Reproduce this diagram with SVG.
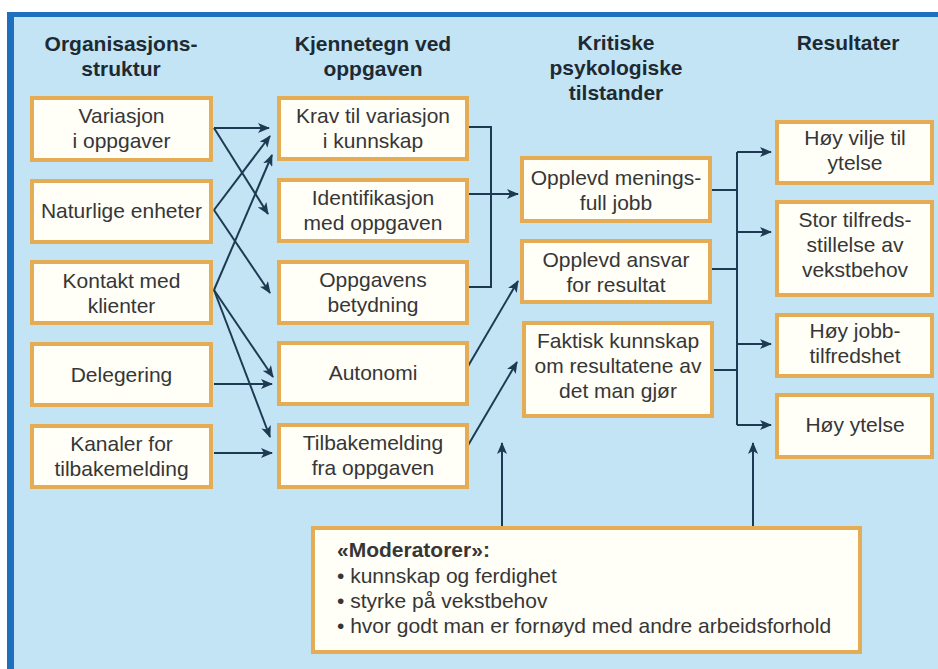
<svg xmlns="http://www.w3.org/2000/svg" width="938" height="669" viewBox="0 0 938 669">
<style>
.bx{fill:#fffef7;stroke:#e4ad55;stroke-width:4}
.t{font-family:"Liberation Sans",Arial,sans-serif;font-size:21px;fill:#363636;text-anchor:middle}
.h{font-family:"Liberation Sans",Arial,sans-serif;font-size:21px;font-weight:bold;fill:#1d2a33;text-anchor:middle}
.m{font-family:"Liberation Sans",Arial,sans-serif;font-size:21px;fill:#363636}
.c{fill:none;stroke:#1e3a52;stroke-width:2}
.a{marker-end:url(#ah)}
</style>
<defs>
<marker id="ah" viewBox="0 0 12 10" refX="11" refY="5" markerWidth="12" markerHeight="10" orient="auto" markerUnits="userSpaceOnUse">
<path d="M0,0 L12,5 L0,10 L3,5 z" fill="#1e3a52"/>
</marker>
</defs>
<rect x="0" y="0" width="938" height="669" fill="#ffffff"/>
<rect x="7" y="12" width="931" height="657" fill="#c3e4f5"/>
<rect x="7" y="12" width="931" height="5" fill="#1f6fbf"/>
<rect x="7" y="12" width="7" height="657" fill="#1f6fbf"/>

<g id="headers">
<text class="h" x="121" y="51">Organisasjons-</text>
<text class="h" x="121" y="76">struktur</text>
<text class="h" x="373" y="51">Kjennetegn ved</text>
<text class="h" x="373" y="76">oppgaven</text>
<text class="h" x="616" y="50">Kritiske</text>
<text class="h" x="616" y="75">psykologiske</text>
<text class="h" x="616" y="100">tilstander</text>
<text class="h" x="848" y="50">Resultater</text>
</g>

<g id="connectors">
<path class="c a" d="M214,128 H269"/>
<path class="c a" d="M214,128 L268,214"/>
<path class="c a" d="M214,210 L270,136"/>
<path class="c a" d="M214,210 L270,293"/>
<path class="c a" d="M214,290 L272,155"/>
<path class="c a" d="M214,290 L273,377"/>
<path class="c a" d="M214,290 L270,437"/>
<path class="c a" d="M214,384 H272"/>
<path class="c a" d="M214,453 H272"/>
<path class="c" d="M467,127 H491 V287 H467"/>
<path class="c a" d="M467,194 H518"/>
<path class="c a" d="M467,368 L518,281"/>
<path class="c a" d="M467,447 L517,362"/>
<path class="c" d="M737,152 V425"/>
<path class="c" d="M710,190 H737 M710,269 H737 M710,370 H737"/>
<path class="c a" d="M737,152 H771"/>
<path class="c a" d="M737,232 H771"/>
<path class="c a" d="M737,344 H771"/>
<path class="c a" d="M737,425 H771"/>
<path class="c a" d="M502,528 V443"/>
<path class="c a" d="M753,528 V443"/>
</g>

<g id="variasjon"><rect class="bx" x="32" y="98" width="179" height="62"/><text class="t" x="121.5" y="123">Variasjon</text><text class="t" x="121.5" y="148">i oppgaver</text></g>
<g id="naturlige"><rect class="bx" x="32" y="181" width="179" height="61"/><text class="t" x="121.5" y="218">Naturlige enheter</text></g>
<g id="kontakt"><rect class="bx" x="32" y="262" width="179" height="61"/><text class="t" x="121.5" y="288">Kontakt med</text><text class="t" x="121.5" y="313">klienter</text></g>
<g id="delegering"><rect class="bx" x="32" y="344" width="179" height="61"/><text class="t" x="121.5" y="382">Delegering</text></g>
<g id="kanaler"><rect class="bx" x="32" y="426" width="179" height="61"/><text class="t" x="121.5" y="451">Kanaler for</text><text class="t" x="121.5" y="476">tilbakemelding</text></g>

<g id="krav"><rect class="bx" x="279" y="98" width="188" height="61"/><text class="t" x="373" y="123">Krav til variasjon</text><text class="t" x="373" y="148">i kunnskap</text></g>
<g id="identifikasjon"><rect class="bx" x="279" y="180" width="188" height="61"/><text class="t" x="373" y="205">Identifikasjon</text><text class="t" x="373" y="230">med oppgaven</text></g>
<g id="betydning"><rect class="bx" x="279" y="262" width="188" height="61"/><text class="t" x="373" y="287">Oppgavens</text><text class="t" x="373" y="312">betydning</text></g>
<g id="autonomi"><rect class="bx" x="279" y="343" width="188" height="61"/><text class="t" x="373" y="380">Autonomi</text></g>
<g id="tilbakemelding"><rect class="bx" x="279" y="425" width="188" height="62"/><text class="t" x="373" y="450">Tilbakemelding</text><text class="t" x="373" y="475">fra oppgaven</text></g>

<g id="meningsfull"><rect class="bx" x="522" y="158" width="188" height="63"/><text class="t" x="616" y="185">Opplevd menings-</text><text class="t" x="616" y="210">full jobb</text></g>
<g id="ansvar"><rect class="bx" x="522" y="241" width="188" height="61"/><text class="t" x="616" y="267">Opplevd ansvar</text><text class="t" x="616" y="292">for resultat</text></g>
<g id="kunnskap"><rect class="bx" x="524" y="323" width="188" height="93"/><text class="t" x="618" y="348">Faktisk kunnskap</text><text class="t" x="618" y="373">om resultatene av</text><text class="t" x="618" y="398">det man gjør</text></g>

<g id="vilje"><rect class="bx" x="777" y="122" width="155" height="61"/><text class="t" x="855" y="145">Høy vilje til</text><text class="t" x="855" y="170">ytelse</text></g>
<g id="tilfredsstillelse"><rect class="bx" x="777" y="202" width="155" height="93"/><text class="t" x="855" y="227">Stor tilfreds-</text><text class="t" x="855" y="252">stillelse av</text><text class="t" x="855" y="277">vekstbehov</text></g>
<g id="jobbtilfredshet"><rect class="bx" x="777" y="315" width="155" height="61"/><text class="t" x="855" y="338">Høy jobb-</text><text class="t" x="855" y="363">tilfredshet</text></g>
<g id="ytelse"><rect class="bx" x="777" y="395" width="155" height="62"/><text class="t" x="855" y="432">Høy ytelse</text></g>

<g id="moderatorer"><rect class="bx" x="313" y="528" width="547" height="124"/>
<text class="m" x="337" y="557" font-weight="bold" fill="#1d2a33">«Moderatorer»:</text>
<text class="m" x="337" y="583">• kunnskap og ferdighet</text>
<text class="m" x="337" y="608">• styrke på vekstbehov</text>
<text class="m" x="337" y="633">• hvor godt man er fornøyd med andre arbeidsforhold</text>
</g>
</svg>
